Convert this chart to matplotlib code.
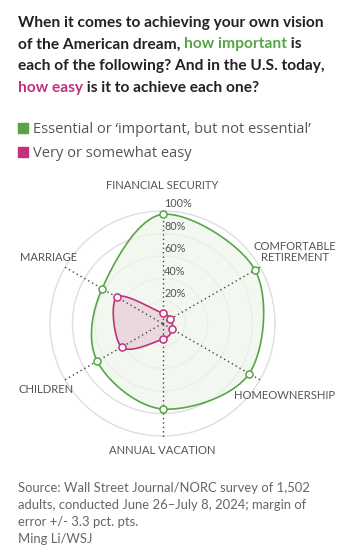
import numpy as np
import matplotlib
matplotlib.use("Agg")
import matplotlib.pyplot as plt

plt.rcParams['font.family'] = ['Lato', 'DejaVu Sans']

# data, clockwise from the top
categories = ["FINANCIAL SECURITY", "COMFORTABLE\nRETIREMENT", "HOMEOWNERSHIP",
              "ANNUAL VACATION", "CHILDREN", "MARRIAGE"]
important = [97, 95, 89, 76, 67, 62]
easy = [9, 8, 10, 14, 42, 47]
ring_values = [20, 40, 60, 80, 100]
ring_labels = ["20%", "40%", "60%", "80%", "100%"]

green = "#57a548"
green_fill = "#eef6ea"
pink = "#c3307b"
pink_fill = "#e6cfd9"
dark = "#222222"
gray = "#555555"

W, H = 346, 557
fig = plt.figure(figsize=(W / 100, H / 100), dpi=100)

# polar-ish chart drawn on equal-aspect cartesian axes, 1 unit = 1 %
cx, cy, half = 162.5, 323.5, 140
ax = fig.add_axes([(cx - half) / W, 1 - (cy + half) / H, 2 * half / W, 2 * half / H])
lim = half / 1.125
ax.set_xlim(-lim, lim)
ax.set_ylim(-lim, lim)
ax.set_aspect('equal')
ax.axis('off')

n = len(categories)
angles = np.pi / 2 - np.arange(n) * 2 * np.pi / n


def closed_spline(xs, ys, steps=40):
    # closed Catmull-Rom through the points
    pts = np.column_stack([xs, ys])
    out = []
    for i in range(len(pts)):
        p0, p1, p2, p3 = pts[i - 1], pts[i], pts[(i + 1) % len(pts)], pts[(i + 2) % len(pts)]
        t = np.linspace(0, 1, steps, endpoint=False)[:, None]
        out.append(0.5 * ((2 * p1) + (-p0 + p2) * t + (2 * p0 - 5 * p1 + 4 * p2 - p3) * t ** 2
                          + (-p0 + 3 * p1 - 3 * p2 + p3) * t ** 3))
    out = np.vstack(out)
    return np.append(out[:, 0], out[0, 0]), np.append(out[:, 1], out[0, 1])


# rings
th = np.linspace(0, 2 * np.pi, 300)
for r in ring_values:
    ax.plot(r * np.cos(th), r * np.sin(th), color="#dedede", lw=1, zorder=1)

# series
for vals, col, fill in [(important, green, green_fill), (easy, pink, pink_fill)]:
    xs = np.array(vals) * np.cos(angles)
    ys = np.array(vals) * np.sin(angles)
    sx, sy = closed_spline(xs, ys)
    ax.fill(sx, sy, color=fill, alpha=0.75, lw=0, zorder=2)
    ax.plot(sx, sy, color=col, lw=1.2, zorder=4)
    ax.scatter(xs, ys, s=26, facecolor="white", edgecolor=col, linewidths=1.1, zorder=5)

# spokes
for a in angles:
    ax.plot([0, 101 * np.cos(a)], [0, 101 * np.sin(a)], color="#444444", lw=1,
            ls=(0, (1, 2.2)), zorder=3)

# ring labels on the top spoke
for r, lab in zip(ring_values, ring_labels):
    ax.text(1.5, r + 1.5, lab, fontsize=7.8, color=gray, ha='left', va='bottom', zorder=6)

# category labels
label_pos = [(0, 123), (117.8, 63.6), (108.9, -64.4), (0, -113), (-103.8, -58.5), (-101.5, 58.8)]
for lab, (lx, ly) in zip(categories, label_pos):
    ax.text(lx, ly, lab, fontsize=8.1, color=gray, ha='center', va='center',
            linespacing=1.05, clip_on=False)

# title with coloured words
renderer = fig.canvas.get_renderer()
title_lines = [
    [("When it comes to achieving your own vision", dark)],
    [("of the American dream, ", dark), ("how important", green), (" is", dark)],
    [("each of the following? And in the U.S. today,", dark)],
    [("how easy", pink), (" is it to achieve each one?", dark)],
]
baselines = [26.7, 48.3, 70, 91.7]
for segs, base in zip(title_lines, baselines):
    x = 18
    for s, col in segs:
        t = fig.text(x / W, 1 - base / H, s, fontsize=11.2, fontweight='bold', color=col,
                     ha='left', va='baseline')
        x += t.get_window_extent(renderer).width

# legend
for txt, col, base in [("Essential or \u2018important, but not essential\u2019", green, 133),
                       ("Very or somewhat easy", pink, 157)]:
    fig.patches.append(plt.Rectangle((18 / W, 1 - (base - 0.5) / H), 10 / W, 10 / H,
                                     transform=fig.transFigure, color=col, figure=fig))
    fig.text(33 / W, 1 - base / H, txt, fontsize=10.5, color=gray, ha='left', va='baseline',
             family=['Open Sans', 'DejaVu Sans'])

# source
source = ["Source: Wall Street Journal/NORC survey of 1,502",
          "adults, conducted June 26\u2013July 8, 2024; margin of",
          "error +/- 3.3 pct. pts.",
          "Ming Li/WSJ"]
for s, base in zip(source, [491.7, 509, 526, 543]):
    fig.text(18 / W, 1 - base / H, s, fontsize=9.4, color="#666666", ha='left',
             va='baseline')

fig.savefig("out.png", dpi=100)
